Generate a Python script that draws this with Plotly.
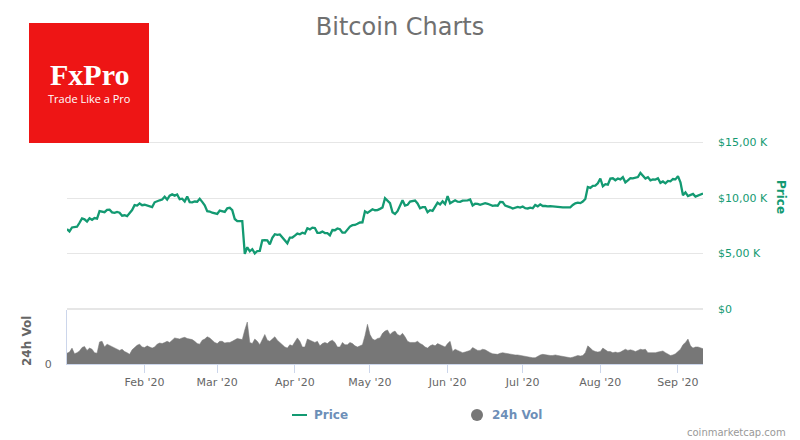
import pandas as pd
import plotly.graph_objects as go

# Daily BTC price (USD), Jan 1 - Sep 11 2020
price_jan = [7200, 6985, 7345, 7410, 7411, 7769, 8163, 8079, 7879, 8166, 8037, 8192, 8144, 8827, 8807,
             8723, 8929, 8942, 8706, 8658, 8745, 8680, 8406, 8445, 8367, 8596, 8910, 9358, 9316, 9508, 9350]
price_feb = [9392, 9344, 9293, 9180, 9613, 9729, 9795, 9865, 10116, 9856, 10208, 10326, 10214, 10312, 9889,
             9934, 9690, 10141, 9633, 9608, 9686, 9663, 9924, 9650, 9341, 8820, 8784, 8672, 8599]
price_mar = [8562, 8869, 8787, 8755, 9078, 9122, 8909, 8108, 7923, 7909, 7911, 4970, 5563, 5200, 5392,
             5014, 5225, 5238, 6191, 6198, 6185, 5830, 6416, 6734, 6681, 6716, 6469, 6242, 5922, 6430, 6438]
price_apr = [6606, 6793, 6733, 6868, 6791, 7271, 7176, 7334, 7302, 6865, 6859, 6971, 6845, 6842, 6642,
             7116, 7096, 7257, 7189, 6881, 6880, 7117, 7429, 7551, 7570, 7679, 7795, 7807, 8801, 8658]
price_may = [8864, 8988, 8897, 8913, 9022, 9143, 9986, 9800, 9539, 8722, 8561, 8810, 9310, 9791, 9316,
             9381, 9680, 9734, 9774, 9511, 9067, 9170, 9179, 8720, 8900, 8842, 9204, 9575, 9427, 9698, 9461]
price_jun = [10167, 9529, 9656, 9800, 9665, 9653, 9758, 9771, 9795, 9870, 9321, 9480, 9475, 9386, 9454,
             9538, 9480, 9411, 9288, 9332, 9303, 9648, 9629, 9313, 9264, 9162, 9045, 9143, 9190, 9138]
price_jul = [9232, 9086, 9058, 9135, 9073, 9375, 9252, 9428, 9278, 9278, 9240, 9276, 9243, 9243, 9192,
             9132, 9151, 9159, 9185, 9165, 9374, 9525, 9581, 9536, 9677, 9905, 10990, 10912, 11100, 11111, 11323]
price_aug = [11759, 11053, 11246, 11205, 11747, 11779, 11601, 11754, 11675, 11878, 11410, 11584, 11784, 11768, 11865,
             11893, 12254, 11991, 11758, 11878, 11592, 11681, 11664, 11774, 11366, 11488, 11323, 11542, 11506, 11711, 11680]
price_sep = [11970, 11414, 10245, 10511, 10169, 10280, 10369, 10131, 10242, 10363, 10400]

# 24h volume (billions USD)
vol_jan = [19, 21, 28, 18, 20, 23, 29, 31, 24, 28, 26, 20, 19, 39, 40, 30, 35, 33, 31, 28, 27, 24, 26, 22, 20, 17, 25, 30, 33, 35, 30]
vol_feb = [29, 32, 30, 28, 30, 35, 37, 36, 38, 40, 38, 42, 46, 45, 44, 46, 47, 45, 44, 43, 40, 36, 35, 42, 44, 48, 46, 42, 38]
vol_mar = [36, 40, 40, 37, 38, 38, 40, 42, 45, 44, 43, 60, 74, 38, 36, 44, 40, 34, 44, 52, 42, 40, 44, 48, 42, 38, 33, 30, 28, 34, 32]
vol_apr = [38, 46, 40, 30, 30, 44, 42, 40, 38, 40, 32, 36, 38, 36, 40, 42, 38, 30, 30, 38, 34, 34, 38, 36, 32, 30, 32, 34, 50, 70]
vol_may = [52, 44, 42, 45, 46, 54, 58, 60, 52, 56, 58, 52, 50, 54, 48, 40, 38, 38, 38, 40, 36, 34, 30, 28, 32, 34, 32, 36, 34, 32, 30]
vol_jun = [36, 40, 22, 26, 24, 22, 20, 21, 22, 24, 29, 26, 24, 24, 26, 25, 22, 20, 18, 18, 17, 19, 20, 19, 18, 17, 17, 16, 16, 15]
vol_jul = [14, 14, 13, 12, 11, 11, 14, 16, 17, 16, 15, 15, 15, 16, 15, 14, 13, 12, 11, 11, 12, 14, 15, 14, 15, 20, 32, 28, 24, 22, 21]
vol_aug = [22, 28, 25, 22, 22, 20, 21, 20, 21, 24, 26, 24, 25, 24, 22, 24, 26, 25, 26, 20, 20, 19, 20, 21, 22, 23, 20, 17, 15, 16, 18]
vol_sep = [22, 26, 34, 38, 44, 32, 28, 30, 30, 28, 27]

month_ticks = ["2020-02-01", "2020-03-01", "2020-04-01", "2020-05-01",
               "2020-06-01", "2020-07-01", "2020-08-01", "2020-09-01"]
month_labels = ["Feb '20", "Mar '20", "Apr '20", "May '20", "Jun '20", "Jul '20", "Aug '20", "Sep '20"]
price_ticks = [0, 5000, 10000, 15000, 20000]
price_labels = ["$0", "$5,00 K", "$10,00 K", "$15,00 K", ""]

price = price_jan + price_feb + price_mar + price_apr + price_may + price_jun + price_jul + price_aug + price_sep
volume = vol_jan + vol_feb + vol_mar + vol_apr + vol_may + vol_jun + vol_jul + vol_aug + vol_sep
volume = [v * 1e9 for v in volume]
dates = pd.date_range("2020-01-01", periods=len(price), freq="D")

GREEN = "#139a72"
GREY = "#777777"
W, H = 800, 440
ML, MR, MT, MB = 67, 97, 87, 76
PW, PH = W - ML - MR, H - MT - MB


def px(x):
    return (x - ML) / PW


def py(y):
    return (H - MB - y) / PH


fig = go.Figure()
fig.add_trace(go.Scatter(x=dates, y=volume, mode="lines", fill="tozeroy",
                         line=dict(color=GREY, width=0.5), fillcolor=GREY,
                         xaxis="x", yaxis="y", showlegend=False, hoverinfo="skip"))
fig.add_trace(go.Scatter(x=dates, y=price, mode="lines",
                         line=dict(color=GREEN, width=2.3),
                         xaxis="x2", yaxis="y2", showlegend=False))

vol_top = py(309)
fig.update_layout(
    width=W, height=H,
    margin=dict(l=ML, r=MR, t=MT, b=MB),
    paper_bgcolor="white", plot_bgcolor="white",
    font=dict(family="DejaVu Sans", size=11, color="#666666"),
    title=dict(text="Bitcoin Charts", x=0.5, xanchor="center", y=1 - 27 / H, yanchor="middle",
               font=dict(family="DejaVu Sans", size=24, color="#707070")),
    xaxis=dict(domain=[0, 1], type="date", range=["2020-01-01", "2020-09-11"],
               tickvals=month_ticks, ticktext=month_labels, ticks="outside", ticklen=8,
               tickcolor="#ccd6eb", showline=True, linecolor="#ccd6eb", showgrid=False,
               zeroline=False, tickfont=dict(size=11, color="#666666")),
    xaxis2=dict(domain=[0, 1], matches="x", anchor="y2", showticklabels=False,
                showgrid=False, zeroline=False, showline=False),
    yaxis=dict(domain=[0, vol_top - 0.004], range=[0, 95e9], tickvals=[0], ticktext=["0"],
               showgrid=False, zeroline=False, showline=True, linecolor="#ccd6eb",
               ticklabelstandoff=12, tickfont=dict(size=11, color="#666666")),
    yaxis2=dict(domain=[vol_top, 1], anchor="x2", side="right", range=[0, 20000],
                tickvals=price_ticks, ticktext=price_labels, gridcolor="#e6e6e6",
                zeroline=True, zerolinecolor="#e6e6e6", zerolinewidth=2,
                ticklabelstandoff=14, tickfont=dict(size=11, color=GREEN)),
    showlegend=False,
)

# FxPro logo box
fig.add_shape(type="rect", xref="paper", yref="paper", x0=px(29), x1=px(149), y0=py(143), y1=py(23),
              fillcolor="#ee1515", line=dict(width=0), layer="above")

# manual legend marks
fig.add_shape(type="line", xref="paper", yref="paper", x0=px(292), x1=px(307), y0=py(415), y1=py(415),
              line=dict(color=GREEN, width=2))
fig.add_shape(type="circle", xref="paper", yref="paper", x0=px(471), x1=px(483), y0=py(421), y1=py(409),
              fillcolor=GREY, line=dict(width=0))

annotations = [
    dict(text="<b>FxPro</b>", x=px(89), y=py(74), font=dict(family="Liberation Serif", size=30, color="white"),
         xanchor="center", yanchor="middle"),
    dict(text="Trade Like a Pro", x=px(89), y=py(99), font=dict(family="Open Sans", size=11, color="white"),
         xanchor="center", yanchor="middle"),
    dict(text="<b>Price</b>", x=px(781), y=py(197), textangle=90,
         font=dict(family="DejaVu Sans", size=12, color=GREEN), xanchor="center", yanchor="middle"),
    dict(text="<b>24h Vol</b>", x=px(27), y=py(341), textangle=-90,
         font=dict(family="DejaVu Sans", size=12, color="#666666"), xanchor="center", yanchor="middle"),
    dict(text="<b>Price</b>", x=px(312), y=py(415),
         font=dict(family="DejaVu Sans", size=12, color="#6d8fb8"), xanchor="left", yanchor="middle"),
    dict(text="<b>24h Vol</b>", x=px(490), y=py(415),
         font=dict(family="DejaVu Sans", size=12, color="#6d8fb8"), xanchor="left", yanchor="middle"),
    dict(text="coinmarketcap.com", x=px(788), y=py(432),
         font=dict(family="DejaVu Sans", size=10, color="#999999"), xanchor="right", yanchor="middle"),
]
for a in annotations:
    a.update(xref="paper", yref="paper", showarrow=False)
    fig.add_annotation(**a)

# drop the browser's default 8px body margin so the figure sits at the page origin
fig.write_html("out.html", config={"displayModeBar": False},
               post_script="document.body.style.margin='0';")
